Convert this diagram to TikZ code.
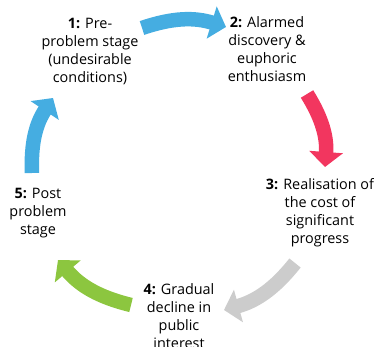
\documentclass[tikz,border=0pt]{standalone}
\usepackage{fontspec}
\setmainfont{Open Sans}
\usetikzlibrary{arrows.meta}
\definecolor{cblue}{HTML}{45ADE1}
\definecolor{cred}{HTML}{F2365F}
\definecolor{cgrey}{HTML}{CCCCCC}
\definecolor{cgreen}{HTML}{8CC63F}
\tikzstyle{stage} = [align=center, inner sep=0pt, font=\fontsize{14.4}{18}\selectfont]
\tikzstyle{arr} = [line width=14.5pt, -{Triangle[width=33pt,length=15pt]}]

\begin{document}
\begin{tikzpicture}[x=1pt,y=1pt]
		\useasboundingbox (0,0) rectangle (374,347);
		\node[stage] (s1) at (90,295) {\textbf{1:} Pre-\\problem stage\\(undesirable\\conditions)};
		\node[stage] (s2) at (267,298) {\textbf{2:} Alarmed\\discovery \&\\euphoric\\enthusiasm};
		\node[stage] (s3) at (320,134) {\textbf{3:} Realisation of\\the cost of\\significant\\progress};
		\node[stage] (s4) at (179,31) {\textbf{4:} Gradual\\decline in\\public\\interest};
		\node[stage] (s5) at (38,134) {\textbf{5:} Post\\problem\\stage};
		
		\coordinate (a1) at (142,319);
		\coordinate (b1) at (226,320);
		\coordinate (a2) at (307,253);
		\coordinate (b2) at (325,180);
		\coordinate (a3) at (295,84);
		\coordinate (b3) at (224,37);
		\coordinate (a4) at (131,42);
		\coordinate (b4) at (58,87);
		\coordinate (a5) at (32,174);
		\coordinate (b5) at (53,249);
		
		\draw[arr, cblue] (a1) to[bend left=18] (b1);
		\draw[arr, cred] (a2) to[bend left=18] (b2);
		\draw[arr, cgrey] (a3) to[bend left=18] (b3);
		\draw[arr, cgreen] (a4) to[bend left=18] (b4);
		\draw[arr, cblue] (a5) to[bend left=18] (b5);
	\end{tikzpicture}
\end{document}
